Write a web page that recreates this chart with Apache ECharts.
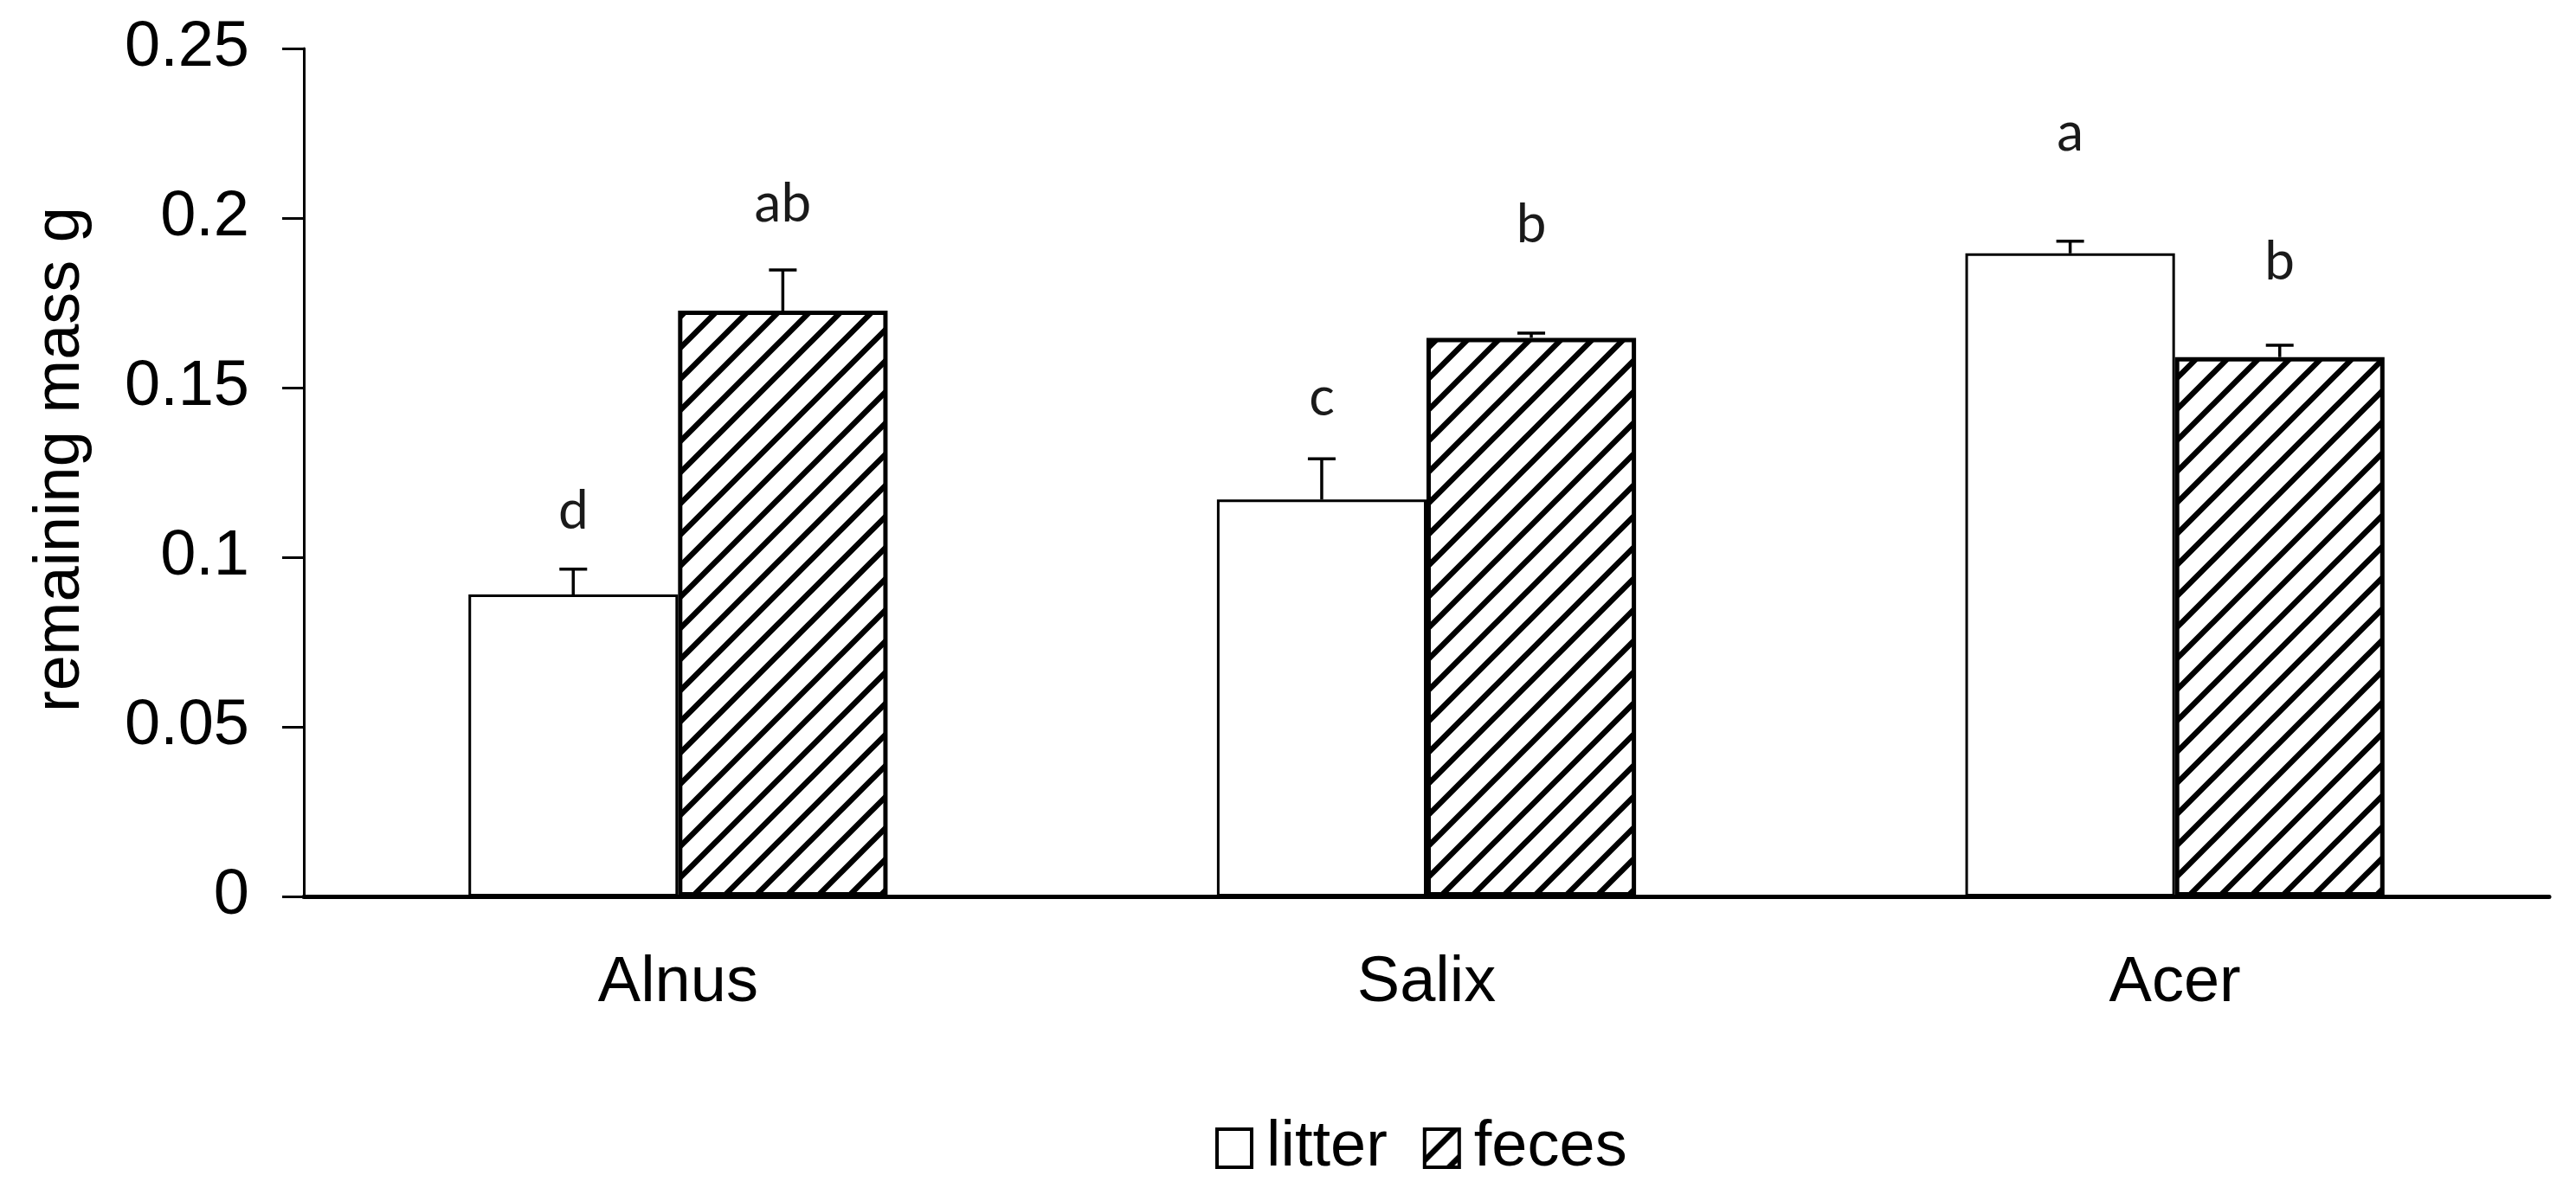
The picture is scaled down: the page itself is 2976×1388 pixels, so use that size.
<!DOCTYPE html>
<html>
<head>
<meta charset="utf-8">
<script src="https://cdn.jsdelivr.net/npm/echarts@6/dist/echarts.min.js"></script>
<style>
  html, body { margin: 0; padding: 0; background: #fff; }
  #chart { width: 2976px; height: 1388px; }
</style>
</head>
<body>
<div id="chart"></div>
<script>
const categories = ['Alnus', 'Salix', 'Acer']
const litter = [0.089, 0.117, 0.1896]
const feces = [0.1727, 0.1647, 0.159]
const litterErr = [0.0075, 0.012, 0.0036]
const fecesErr = [0.012, 0.0014, 0.0035]
const litterLetters = ['d', 'c', 'a']
const fecesLetters = ['ab', 'b', 'b']
const litterLetterY = [0.1136, 0.147, 0.225]
const fecesLetterY = [0.204, 0.198, 0.187]

const FONT = '"Liberation Sans", Arial, sans-serif'
const BAR_FRAC = 0.28

// hatch tile for the feces bars
function hatch() {
	const s = 36
	const c = document.createElement('canvas')
	c.width = s
	c.height = s
	const ctx = c.getContext('2d')
	ctx.fillStyle = '#fff'
	ctx.fillRect(0, 0, s, s)
	ctx.strokeStyle = '#000'
	ctx.lineWidth = 6.5
	ctx.beginPath()
	ctx.moveTo(0, s); ctx.lineTo(s, 0)
	ctx.moveTo(-s / 2, s / 2); ctx.lineTo(s / 2, -s / 2)
	ctx.moveTo(s / 2, s + s / 2); ctx.lineTo(s + s / 2, s / 2)
	ctx.stroke()
	return c
}

const chart = echarts.init(document.getElementById('chart'))

const errSeries = (vals, errs, side) => ({
	type: 'custom',
	z: 5,
	silent: true,
	encode: { x: 0, y: 1 },
	data: categories.map((_, i) => [i, vals[i], errs[i]]),
	renderItem: (params, api) => {
		const band = api.size([1, 0])[0]
		const base = api.coord([api.value(0), api.value(1)])
		const top = api.coord([api.value(0), api.value(1) + api.value(2)])
		const x = base[0] + side * band * BAR_FRAC / 2
		const st = { stroke: '#000', lineWidth: 3.5 }
		return {
			type: 'group',
			children: [
				{ type: 'line', shape: { x1: x, y1: base[1], x2: x, y2: top[1] }, style: st },
				{ type: 'line', shape: { x1: x - 16, y1: top[1], x2: x + 16, y2: top[1] }, style: st }
			]
		}
	}
})

const letterSeries = (ys, letters, side) => ({
	type: 'custom',
	z: 6,
	silent: true,
	encode: { x: 0, y: 1 },
	data: categories.map((_, i) => [i, ys[i], letters[i]]),
	renderItem: (params, api) => {
		const band = api.size([1, 0])[0]
		const p = api.coord([api.value(0), api.value(1)])
		return {
			type: 'text',
			style: {
				x: p[0] + side * band * BAR_FRAC / 2,
				y: p[1],
				text: letters[params.dataIndex],
				align: 'center',
				verticalAlign: 'middle',
				font: '62px Lato, "Open Sans", sans-serif',
				fill: '#1a1a1a'
			}
		}
	}
})

const option = {
	animation: false,
	backgroundColor: '#fff',
	grid: { left: 351, right: 31, top: 56, bottom: 352, containLabel: false },
	legend: {
		data: ['litter', 'feces'],
		left: 1404,
		top: 1290,
		padding: 0,
		icon: 'rect',
		itemWidth: 40,
		itemHeight: 44,
		itemGap: 41,
		itemStyle: { borderColor: '#000', borderWidth: 4 },
		textStyle: { fontSize: 74, fontFamily: FONT, color: '#000', padding: [0, 0, 0, 12] }
	},
	xAxis: {
		type: 'category',
		data: categories,
		axisLine: { lineStyle: { color: '#000', width: 5 } },
		axisTick: { length: 27, lineStyle: { color: '#000', width: 2 } },
		axisLabel: { fontSize: 74, fontFamily: FONT, color: '#000', margin: 64 }
	},
	yAxis: {
		type: 'value',
		min: 0,
		max: 0.25,
		interval: 0.05,
		name: 'remaining mass g',
		nameLocation: 'middle',
		nameGap: 243,
		nameTextStyle: { fontSize: 74, fontFamily: FONT, color: '#000', padding: [0, 0, 0, 30] },
		axisLine: { show: true, lineStyle: { color: '#000', width: 3 } },
		axisTick: { show: true, length: 25, lineStyle: { color: '#000', width: 3 } },
		axisLabel: { fontSize: 74, fontFamily: FONT, color: '#000', margin: 63 },
		splitLine: { show: false }
	},
	series: [
		{
			name: 'litter',
			type: 'bar',
			data: litter,
			barWidth: BAR_FRAC * 100 + '%',
			barGap: '0%',
			itemStyle: { color: '#fff', borderColor: '#000', borderWidth: 3 }
		},
		{
			name: 'feces',
			type: 'bar',
			data: feces,
			barWidth: BAR_FRAC * 100 + '%',
			itemStyle: { color: { image: hatch(), repeat: 'repeat' }, borderColor: '#000', borderWidth: 5 }
		},
		errSeries(litter, litterErr, -1),
		errSeries(feces, fecesErr, 1),
		letterSeries(litterLetterY, litterLetters, -1),
		letterSeries(fecesLetterY, fecesLetters, 1)
	]
}

chart.setOption(option)
</script>
</body>
</html>
